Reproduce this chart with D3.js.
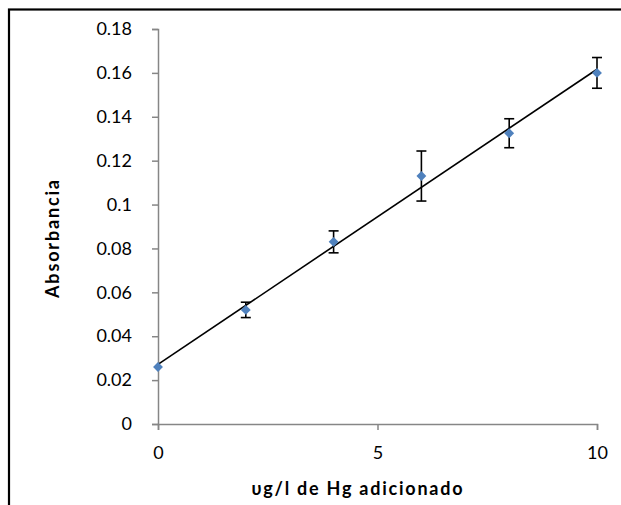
<!DOCTYPE html>
<html>
<head>
<meta charset="utf-8">
<script src="https://cdn.jsdelivr.net/npm/d3@7"></script>
<style>
  html, body { margin: 0; padding: 0; background: #fff; }
  svg { display: block; }
</style>
</head>
<body>
<svg id="chart" width="621" height="505"></svg>
<script>
// Data
const concentrations = [0, 2, 4, 6, 8, 10];
const absorbance = [0.026, 0.052, 0.083, 0.113, 0.1325, 0.160];
const errors = [0.0015, 0.0035, 0.005, 0.0114, 0.0066, 0.007];
const yTicks = [0, 0.02, 0.04, 0.06, 0.08, 0.1, 0.12, 0.14, 0.16, 0.18];
const xTicks = [0, 5, 10];
const xTitle = "υg/l de Hg adicionado";
const yTitle = "Absorbancia";

(function () {
const svg = d3.select("#chart");
const pLeft = 158, pRight = 597, pTop = 29, pBottom = 424;

// outer frame
svg.append("rect")
  .attr("x", 9).attr("y", 9.5).attr("width", 700).attr("height", 700)
  .attr("fill", "white").attr("stroke", "#000").attr("stroke-width", 2.2);

const x = d3.scaleLinear().domain([0, 10]).range([pLeft, pRight]);
const y = d3.scaleLinear().domain([0, 0.18]).range([pBottom, pTop]);

const font = "Lato, 'Open Sans', sans-serif";

// y axis
const yAxis = svg.append("g").attr("transform", `translate(${pLeft},0)`)
  .call(d3.axisLeft(y).tickValues(yTicks).tickSize(6).tickPadding(20)
    .tickFormat(d => d3.format("~g")(+d.toFixed(2))));
// x axis
const xAxis = svg.append("g").attr("transform", `translate(0,${pBottom})`)
  .call(d3.axisBottom(x).tickValues(xTicks).tickSize(6).tickPadding(16)
    .tickFormat(d3.format("d")));

[yAxis, xAxis].forEach(g => {
  g.select(".domain").attr("stroke", "#868686").attr("stroke-width", 1.5);
  g.selectAll(".tick line").attr("stroke", "#868686").attr("stroke-width", 1.5);
  g.selectAll(".tick text").attr("fill", "#000").style("font-family", font).style("font-size", "18px");
});

// regression line
const mx = d3.mean(concentrations), my = d3.mean(absorbance);
const slope = d3.sum(concentrations, (c, i) => (c - mx) * (absorbance[i] - my)) /
              d3.sum(concentrations, c => (c - mx) ** 2);
const intercept = my - slope * mx;
svg.append("line")
  .attr("x1", x(0)).attr("y1", y(intercept))
  .attr("x2", x(10)).attr("y2", y(intercept + slope * 10))
  .attr("stroke", "#000").attr("stroke-width", 1.6);

// error bars
const eb = svg.append("g").attr("stroke", "#000").attr("stroke-width", 1.6);
concentrations.forEach((c, i) => {
  if (errors[i] < 0.002) return;
  const cx = x(c);
  eb.append("line").attr("x1", cx).attr("x2", cx)
    .attr("y1", y(absorbance[i] - errors[i])).attr("y2", y(absorbance[i] + errors[i]));
  [absorbance[i] - errors[i], absorbance[i] + errors[i]].forEach(v => {
    eb.append("line").attr("x1", cx - 5).attr("x2", cx + 5)
      .attr("y1", y(v)).attr("y2", y(v));
  });
});

// markers
const diamond = d3.symbol().type(d3.symbolDiamond2).size(62);
svg.append("g").selectAll("path").data(concentrations).join("path")
  .attr("d", diamond)
  .attr("transform", (c, i) => `translate(${x(c)},${y(absorbance[i])})`)
  .attr("fill", "#4F81BD");

// axis titles
svg.append("text")
  .attr("x", 357).attr("y", 495)
  .attr("text-anchor", "middle")
  .attr("textLength", 211).attr("lengthAdjust", "spacing")
  .style("font-family", font).style("font-size", "18px").style("font-weight", "bold")
  .text(xTitle);
svg.append("text")
  .attr("transform", `translate(59,239) rotate(-90)`)
  .attr("text-anchor", "middle")
  .attr("textLength", 118).attr("lengthAdjust", "spacing")
  .style("font-family", font).style("font-size", "18px").style("font-weight", "bold")
  .text(yTitle);
})();
</script>
</body>
</html>
